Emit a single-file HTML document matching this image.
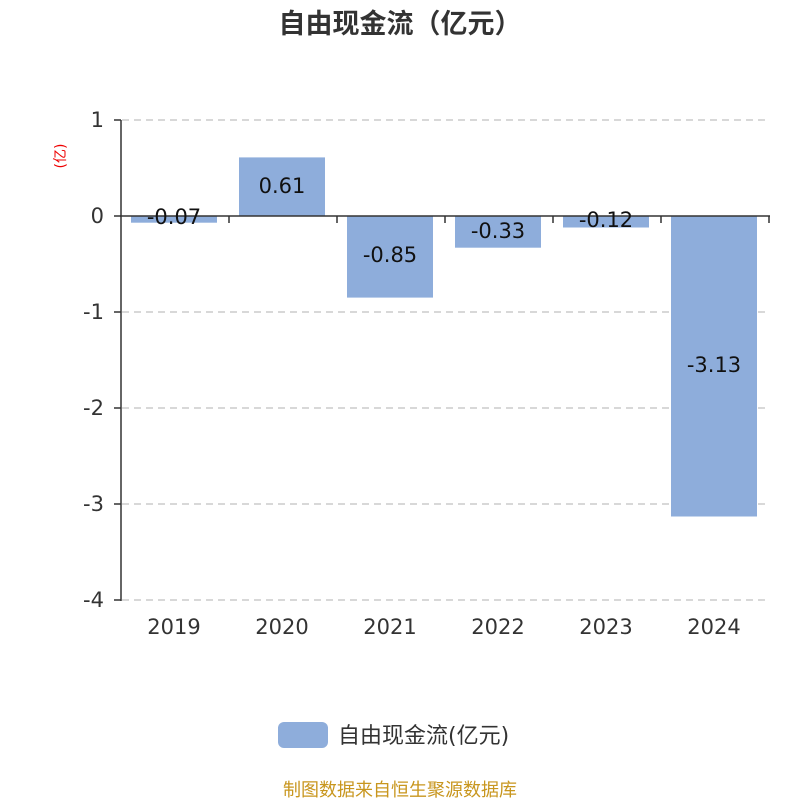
<!DOCTYPE html>
<html><head><meta charset="utf-8"><style>body{margin:0;background:#fff}</style></head><body>
<svg width="800" height="800" xmlns="http://www.w3.org/2000/svg" font-family="DejaVu Sans, Noto Sans CJK SC, sans-serif">
<rect width="800" height="800" fill="#fff"/>
<text x="400" y="33" text-anchor="middle" font-size="27" font-weight="bold" fill="#333" font-family="Liberation Sans, Noto Sans CJK SC, sans-serif">自由现金流（亿元）</text>
<text x="60" y="161" text-anchor="middle" font-size="14" fill="#e00" transform="rotate(-90 60 156)">(亿)</text>
<g stroke="#ccc" stroke-dasharray="7,5" stroke-width="1.5">
<line x1="122" y1="120" x2="770" y2="120"/><line x1="122" y1="312" x2="770" y2="312"/><line x1="122" y1="408" x2="770" y2="408"/><line x1="122" y1="504" x2="770" y2="504"/><line x1="122" y1="600" x2="770" y2="600"/></g>
<g fill="#8eaddb">
<rect x="131" y="216" width="86" height="6.7"/>
<rect x="239" y="157.4" width="86" height="58.6"/>
<rect x="347" y="216" width="86" height="81.6"/>
<rect x="455" y="216" width="86" height="31.7"/>
<rect x="563" y="216" width="86" height="11.5"/>
<rect x="671" y="216" width="86" height="300.5"/>
</g>
<g stroke="#333" stroke-width="1.5">
<line x1="121" y1="120" x2="121" y2="601"/>
<line x1="120" y1="216" x2="770" y2="216"/>
<line x1="114" y1="120" x2="121" y2="120"/><line x1="114" y1="216" x2="121" y2="216"/><line x1="114" y1="312" x2="121" y2="312"/><line x1="114" y1="408" x2="121" y2="408"/><line x1="114" y1="504" x2="121" y2="504"/><line x1="114" y1="600" x2="121" y2="600"/>
<line x1="229" y1="216" x2="229" y2="223"/><line x1="337" y1="216" x2="337" y2="223"/><line x1="445" y1="216" x2="445" y2="223"/><line x1="553" y1="216" x2="553" y2="223"/><line x1="661" y1="216" x2="661" y2="223"/><line x1="769" y1="216" x2="769" y2="223"/>
</g>
<g font-size="21" fill="#333" text-anchor="end">
<text x="104" y="127">1</text><text x="104" y="223">0</text><text x="104" y="319">-1</text><text x="104" y="415">-2</text><text x="104" y="511">-3</text><text x="104" y="607">-4</text></g>
<g font-size="21" fill="#333" text-anchor="middle">
<text x="174" y="634">2019</text><text x="282" y="634">2020</text><text x="390" y="634">2021</text><text x="498" y="634">2022</text><text x="606" y="634">2023</text><text x="714" y="634">2024</text></g>
<g font-size="21" fill="#111" text-anchor="middle">
<text x="174" y="224">-0.07</text><text x="282" y="193">0.61</text><text x="390" y="262">-0.85</text><text x="498" y="238">-0.33</text><text x="606" y="227">-0.12</text><text x="714" y="372">-3.13</text></g>
<rect x="278" y="722" width="50" height="26" rx="6" fill="#8eaddb"/>
<text x="338" y="743" font-size="22" fill="#333">自由现金流(亿元)</text>
<text x="400" y="796" text-anchor="middle" font-size="18" fill="#c8961e">制图数据来自恒生聚源数据库</text>
</svg>
</body></html>
